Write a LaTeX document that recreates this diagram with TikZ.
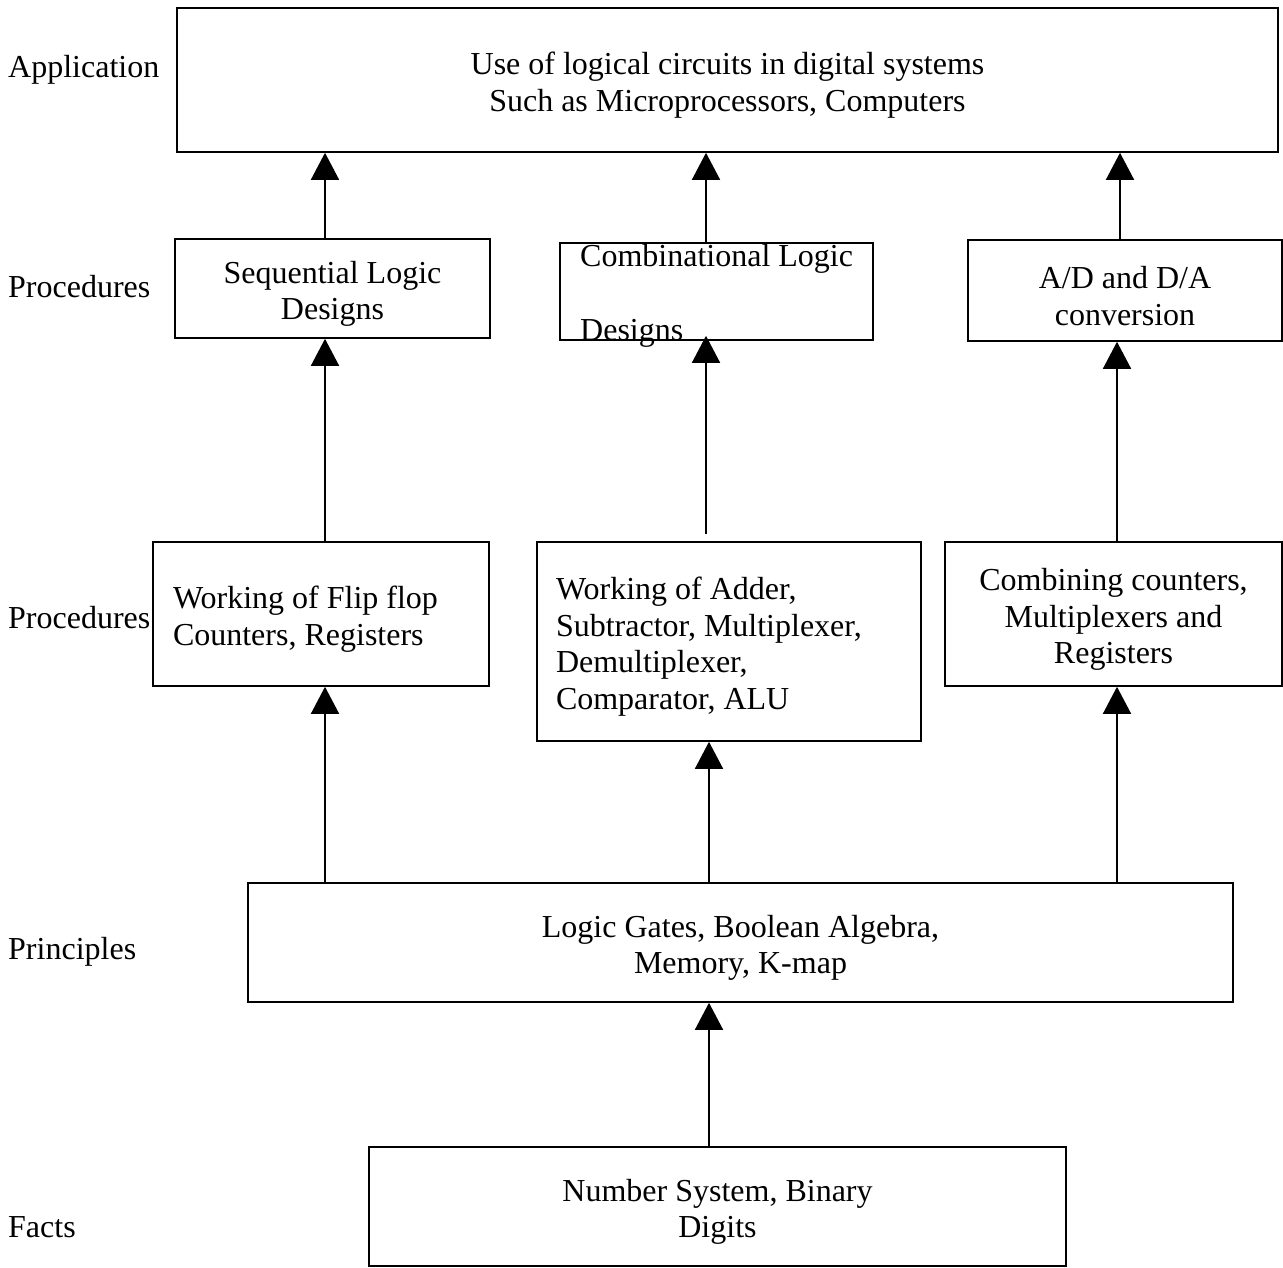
\documentclass[tikz,border=0pt]{standalone}
\usepackage{fontspec}
\setmainfont{Liberation Serif}
\usetikzlibrary{arrows.meta,calc}
\newcommand\topgap{\rule{0pt}{33pt}}
\begin{document}
\begin{tikzpicture}[x=1pt,y=-1pt,
  every node/.style={font=\fontsize{32}{36.5}\selectfont},
  box/.style={draw,line width=1.6pt,inner sep=0pt,align=center},
  lbox/.style={draw,line width=1.6pt,inner ysep=0pt,inner xsep=20pt,align=flush left},
  lab/.style={anchor=base west,inner sep=0pt},
  arr/.style={line width=1.6pt,-{Triangle[width=28pt,length=27pt]}}]
\useasboundingbox (0,0) rectangle (1283,1268);
% boxes
\node[box,minimum width=1101pt,minimum height=144pt] (app) at (727.5,80)
  {\topgap Use of logical circuits in digital systems\\Such as Microprocessors, Computers};
\node[box,minimum width=315pt,minimum height=99pt] (seq) at (332.5,288.5)
  {\topgap Sequential Logic\\Designs};
\node[box,minimum width=313pt,minimum height=97pt] (comb) at (716.5,291.5) {};
\node[lab] (combt1) at (580,267) {Combinational Logic};
\node[lab] (combt2) at (580,340) {Designs};
\node[box,minimum width=314pt,minimum height=101pt] (ad) at (1125,290.5)
  {\topgap A/D and D/A\\conversion};
\node[lbox,text width=296pt,minimum height=144pt] (ff) at (321,614)
  {\topgap Working of Flip flop\\Counters, Registers};
\node[lbox,inner xsep=19pt,text width=346pt,minimum height=199pt] (adder) at (729,641.5)
  {\topgap Working of Adder,\\Subtractor, Multiplexer,\\Demultiplexer,\\Comparator, ALU};
\node[box,minimum width=337pt,minimum height=144pt] (cmb) at (1113.5,614)
  {\topgap Combining counters,\\Multiplexers and\\Registers};
\node[box,minimum width=985pt,minimum height=119pt] (prin) at (740.5,942.5)
  {\topgap Logic Gates, Boolean Algebra,\\Memory, K-map};
\node[box,minimum width=697pt,minimum height=119pt] (facts) at (717.5,1206.5)
  {\topgap Number System, Binary\\Digits};
% left labels
\node[lab] (l1) at (8,78) {Application};
\node[lab] (l2) at (8,298) {Procedures};
\node[lab] (l3) at (8,628) {Procedures};
\node[lab] (l4) at (8,959) {Principles};
\node[lab] (l5) at (8,1237) {Facts};
% column coordinates
\coordinate (c1) at (325,0);
\coordinate (c2) at (706,0);
\coordinate (c3) at (709,0);
\coordinate (c4) at (1120,0);
\coordinate (c5) at (1117,0);
% arrows
\draw[arr] (seq.north -| c1) -- (app.south -| c1);
\draw[arr] (comb.north -| c2) -- (app.south -| c2);
\draw[arr] (ad.north -| c4) -- (app.south -| c4);
\draw[arr] (ff.north -| c1) -- (seq.south -| c1);
\draw[arr] ($(adder.north -| c2)+(0,-7)$) -- ($(comb.south -| c2)+(0,-5)$);
\draw[arr] (cmb.north -| c5) -- (ad.south -| c5);
\draw[arr] (prin.north -| c1) -- (ff.south -| c1);
\draw[arr] (prin.north -| c3) -- (adder.south -| c3);
\draw[arr] (prin.north -| c5) -- (cmb.south -| c5);
\draw[arr] (facts.north -| c3) -- (prin.south -| c3);
\end{tikzpicture}
\end{document}
